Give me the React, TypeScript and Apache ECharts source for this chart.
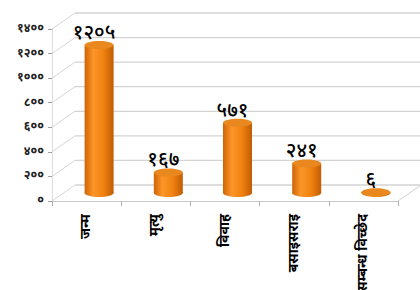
import React, { useEffect, useRef } from "react";
import * as echarts from "echarts";

const categories = ["जन्म", "मृत्यु", "विवाह", "बसाइसराइ", "सम्बन्ध विच्छेद"];
const values = [1205, 167, 571, 241, 6];
const yTicks = [0, 200, 400, 600, 800, 1000, 1200, 1400];

const DEV = ["०", "१", "२", "३", "४", "५", "६", "७", "८", "९"];
const toDev = (n: number) => String(n).replace(/[0-9]/g, (d) => DEV[Number(d)]);

const FONT = "'Noto Sans Devanagari', 'Noto Sans', sans-serif";
const DX = 23;
const DY = -16;

export default function App() {
  const ref = useRef<HTMLDivElement>(null);
  useEffect(() => {
    if (!ref.current) return;
    const chart = echarts.init(ref.current, null, { renderer: "svg" });
    const bodyGrad = new echarts.graphic.LinearGradient(0, 0, 1, 0, [
      { offset: 0, color: "#d06404" },
      { offset: 0.3, color: "#fb962a" },
      { offset: 0.65, color: "#f08210" },
      { offset: 1, color: "#c05c04" },
    ]);
    chart.setOption({
      animation: false,
      backgroundColor: "#ffffff",
      grid: {
        left: 52,
        top: 29,
        width: 346,
        height: 172,
        containLabel: false,
        outerBoundsMode: "none",
      },
      xAxis: {
        type: "category",
        data: categories,
        axisLine: { lineStyle: { color: "#c8c8c8", width: 1 } },
        axisTick: { show: true, length: 5, lineStyle: { color: "#b0b0b0" } },
        axisLabel: {
          rotate: 90,
          margin: 13,
          color: "#000",
          fontSize: 14,
          fontWeight: "bold",
          fontFamily: FONT,
        },
      },
      yAxis: {
        type: "value",
        min: 0,
        max: 1400,
        interval: 200,
        axisLine: { show: true, lineStyle: { color: "#dddddd" } },
        axisTick: { show: true, length: 4, lineStyle: { color: "#a0a0a0" } },
        splitLine: { show: false },
        axisLabel: {
          margin: 8,
          color: "#222",
          fontSize: 12,
          fontWeight: "bold",
          fontFamily: FONT,
          formatter: (v: number) => toDev(v),
        },
      },
      series: [
        {
          type: "custom",
          silent: true,
          z: 1,
          data: yTicks.map((v) => [0, v]),
          renderItem: (params: any, api: any) => {
            const cs = params.coordSys;
            const v = api.value(1);
            const y = api.coord([0, v])[1];
            const x0 = cs.x;
            const children: any[] = [
              {
                type: "line",
                shape: { x1: x0, y1: y, x2: x0 + DX, y2: y + DY },
                style: { stroke: "#d6d6d6", lineWidth: 1 },
              },
              {
                type: "line",
                shape: { x1: x0 + DX, y1: y + DY, x2: x0 + cs.width + DX + 40, y2: y + DY },
                style: { stroke: "#d3d3d3", lineWidth: 1.3 },
              },
            ];
            if (v === 0) {
              children.push({
                type: "line",
                shape: { x1: x0 + cs.width, y1: y, x2: x0 + cs.width + DX, y2: y + DY },
                style: { stroke: "#d0d0d0", lineWidth: 1 },
              });
            }
            return { type: "group", children };
          },
        },
        {
          type: "custom",
          z: 3,
          data: values.map((v, i) => [i, v]),
          renderItem: (params: any, api: any) => {
            const i = api.value(0);
            const v = api.value(1);
            const top = api.coord([i, v]);
            const base = api.coord([i, 0]);
            const cx = top[0] + DX / 2 + 1;
            const ty = top[1] + DY / 2;
            const by = base[1] + DY / 2;
            const w = 29;
            const ry = 4;
            return {
              type: "group",
              children: [
                {
                  type: "ellipse",
                  shape: { cx, cy: by, rx: w / 2, ry },
                  style: { fill: bodyGrad },
                },
                {
                  type: "rect",
                  shape: { x: cx - w / 2, y: ty, width: w, height: Math.max(by - ty, 0) },
                  style: { fill: bodyGrad },
                },
                {
                  type: "ellipse",
                  shape: { cx, cy: ty, rx: w / 2, ry },
                  style: { fill: "#e9881e" },
                },
                {
                  type: "text",
                  x: cx - 5,
                  y: ty - ry + 3,
                  style: {
                    text: toDev(v),
                    fill: "#000",
                    fontSize: 20,
                    fontWeight: 500,
                    fontFamily: FONT,
                    align: "center",
                    verticalAlign: "bottom",
                  },
                },
              ],
            };
          },
        },
      ],
    });
    return () => chart.dispose();
  }, []);
  return (
    <div
      ref={ref}
      style={{ position: "fixed", left: 0, top: 0, width: 420, height: 290 }}
    />
  );
}
